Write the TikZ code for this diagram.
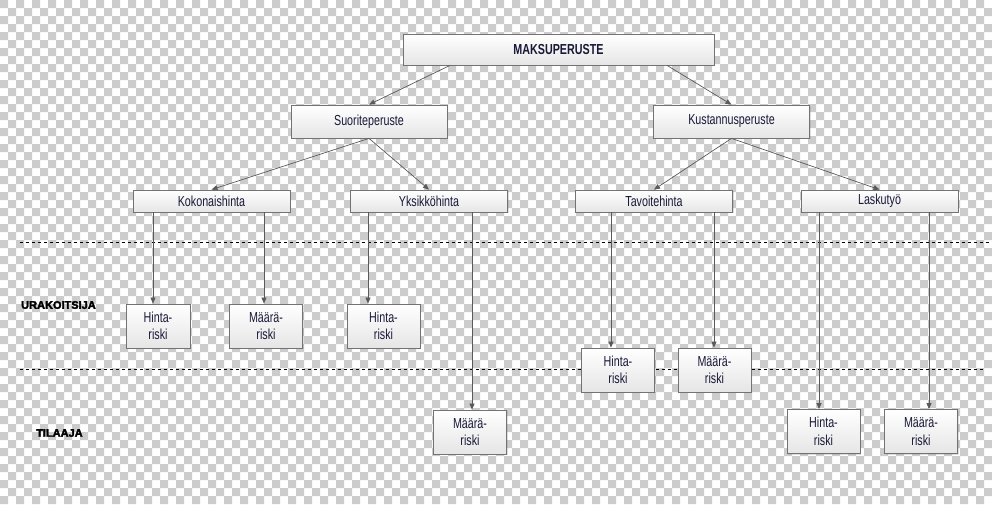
\documentclass[tikz,border=0pt]{standalone}
\usepackage{fontspec}
\setmainfont{Liberation Sans}
\newfontfamily\boxfont[FakeStretch=0.74]{Liberation Sans}
\newfontfamily\rolefont[UprightFont=*/B, FakeBold=3]{Liberation Sans}
\usetikzlibrary{arrows.meta,shadows}
\definecolor{checkgray}{RGB}{204,204,204}
\definecolor{boxtext}{RGB}{24,24,56}
\definecolor{boxedge}{RGB}{115,115,115}
\definecolor{linkgray}{RGB}{90,90,90}
\tikzset{
  boxbase/.style={draw=boxedge, line width=0.8pt, top color=white, bottom color=black!10,
    drop shadow={shadow xshift=1pt, shadow yshift=-1pt, opacity=0.25},
    text=boxtext, inner sep=0pt, align=center,
    font=\boxfont\fontsize{14.5}{17.5}\selectfont},
  topbox/.style={boxbase, minimum width=311pt, minimum height=31pt,
    font=\boxfont\bfseries\fontsize{14.5}{17.5}\selectfont},
  midbox/.style={boxbase, minimum width=156pt, minimum height=33pt},
  leafbox/.style={boxbase, minimum width=157pt, minimum height=22pt},
  riskbox/.style={boxbase, minimum width=73pt, minimum height=44pt},
  rolelabel/.style={anchor=west, inner sep=0pt, text=black,
    font=\rolefont\fontsize{11}{13}\selectfont},
  link/.style={draw=linkgray, line width=0.7pt,
    -{Triangle[length=6pt,width=5pt]}},
  divider/.style={draw=black, line width=1pt, dash pattern=on 3pt off 3pt}
}
\begin{document}
\begin{tikzpicture}[x=1pt,y=-1pt]
  % checkered backdrop
  \fill[white] (0,0) rectangle (992,504);
  \fill[checkgray]
    \foreach \j in {0,...,62}{
      \foreach \i in {0,...,61}{
        [/utils/exec={\pgfmathtruncatemacro\cx{(2*\i+mod(\j,2))*8}\pgfmathtruncatemacro\cy{\j*8}}]
        (\cx,\cy) rectangle ++(8,8)
      }
    };
  \useasboundingbox (0,0) rectangle (992,504);

  % horizontal dividers between the parties
  \coordinate (d1a) at (20,242);
  \coordinate (d1b) at (992,242);
  \coordinate (d2a) at (20,369);
  \coordinate (d2b) at (983,369);
  \draw[divider] (d1a) -- (d1b);
  \draw[divider] (d2a) -- (d2b);

  % hierarchy boxes
  \node[topbox]  (maksu) at (558.5,49.5) {MAKSUPERUSTE};
  \node[midbox]  (suor)  at (369,121.5)  {Suoriteperuste};
  \node[midbox]  (kust)  at (731.5,121.5) {Kustannusperuste};
  \node[leafbox] (koko)  at (211.5,201)  {Kokonaishinta};
  \node[leafbox] (yksi)  at (429,201)    {Yksikköhinta};
  \node[leafbox] (tavo)  at (654,201)    {Tavoitehinta};
  \node[leafbox] (lask)  at (879.5,201)  {Laskutyö};

  % risk boxes
  \node[riskbox, minimum width=64pt] (h1) at (158,326)   {Hinta-\\riski};
  \node[riskbox] (m1) at (266,326)   {Määrä-\\riski};
  \node[riskbox] (h2) at (383.5,326) {Hinta-\\riski};
  \node[riskbox] (h3) at (618,370)   {Hinta-\\riski};
  \node[riskbox] (m3) at (714.5,370) {Määrä-\\riski};
  \node[riskbox] (m2) at (470,432)   {Määrä-\\riski};
  \node[riskbox] (h4) at (823.5,431.5) {Hinta-\\riski};
  \node[riskbox] (m4) at (921,431.5) {Määrä-\\riski};

  % party labels
  \node[rolelabel] (urak) at (21,305)  {URAKOITSIJA};
  \node[rolelabel] (tila) at (36,433)  {TILAAJA};

  % tree connectors
  \draw[link] ([xshift=-108.5pt]maksu.south) -- (suor.north);
  \draw[link] ([xshift=108.5pt]maksu.south) -- (kust.north);
  \draw[link] (suor.south) -- (koko.north);
  \draw[link] (suor.south) -- (yksi.north);
  \draw[link] (kust.south) -- (tavo.north);
  \draw[link] (kust.south) -- (lask.north);

  % drop lines to the risk boxes
  \coordinate (x1) at (153,0);
  \coordinate (x2) at (264,0);
  \coordinate (x3) at (368,0);
  \coordinate (x4) at (472,0);
  \coordinate (x5) at (611,0);
  \coordinate (x6) at (714,0);
  \coordinate (x7) at (819,0);
  \coordinate (x8) at (929,0);
  \draw[link] (koko.south -| x1) -- (h1.north -| x1);
  \draw[link] (koko.south -| x2) -- (m1.north -| x2);
  \draw[link] (yksi.south -| x3) -- (h2.north -| x3);
  \draw[link] (yksi.south -| x4) -- (m2.north -| x4);
  \draw[link] (tavo.south -| x5) -- (h3.north -| x5);
  \draw[link] (tavo.south -| x6) -- (m3.north -| x6);
  \draw[link] (lask.south -| x7) -- (h4.north -| x7);
  \draw[link] (lask.south -| x8) -- (m4.north -| x8);
\end{tikzpicture}
\end{document}
